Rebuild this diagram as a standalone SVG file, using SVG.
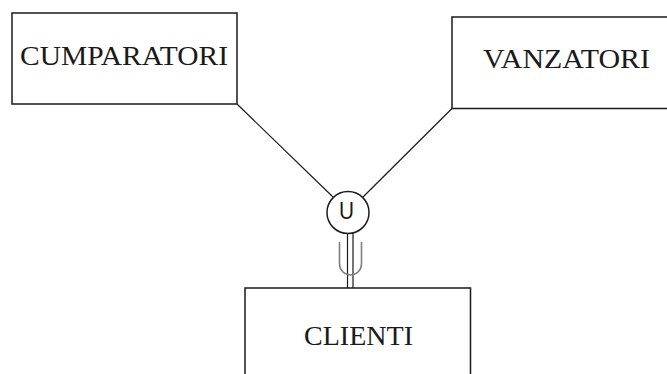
<svg xmlns="http://www.w3.org/2000/svg" width="667" height="374" viewBox="0 0 667 374">
  <style>
    .box { fill: #ffffff; stroke: #1a1a1a; stroke-width: 1.5; }
    .label { font-family: "Liberation Serif", "Times New Roman", serif; font-size: 27px; fill: #1a1a1a; }
    .link { stroke: #1a1a1a; stroke-width: 1.2; fill: none; }
    .subset { stroke: #808080; stroke-width: 1.6; fill: none; }
  </style>
  <rect x="0" y="0" width="667" height="374" fill="#ffffff"/>

  <!-- connectors -->
  <g id="connectors">
    <line class="link" x1="237" y1="104" x2="333" y2="197"/>
    <line class="link" x1="452" y1="108.5" x2="363" y2="197"/>
    <line class="link" x1="347.5" y1="233" x2="347.5" y2="288"/>
    <line class="link" x1="353" y1="233" x2="353" y2="288"/>
    <path class="subset" d="M339.5 242 V264 A11 11 0 0 0 361.5 264 V242"/>
  </g>

  <g id="cumparatori">
    <rect class="box" x="12" y="13" width="225" height="91"/>
    <text class="label" x="20" y="65" textLength="208" lengthAdjust="spacingAndGlyphs">CUMPARATORI</text>
  </g>

  <g id="vanzatori">
    <rect class="box" x="452" y="17" width="230" height="91.5"/>
    <text class="label" x="483" y="68" textLength="167" lengthAdjust="spacingAndGlyphs">VANZATORI</text>
  </g>

  <g id="union">
    <circle cx="348" cy="212.5" r="21" fill="#ffffff" stroke="#1a1a1a" stroke-width="1.5"/>
    <text x="339" y="218.5" font-family="'Liberation Sans', Arial, sans-serif" font-size="24" fill="#1a1a1a" textLength="15" lengthAdjust="spacingAndGlyphs">U</text>
  </g>

  <g id="clienti">
    <rect class="box" x="245" y="288" width="225.5" height="100"/>
    <text class="label" x="304" y="345" textLength="109" lengthAdjust="spacingAndGlyphs">CLIENTI</text>
  </g>
</svg>
